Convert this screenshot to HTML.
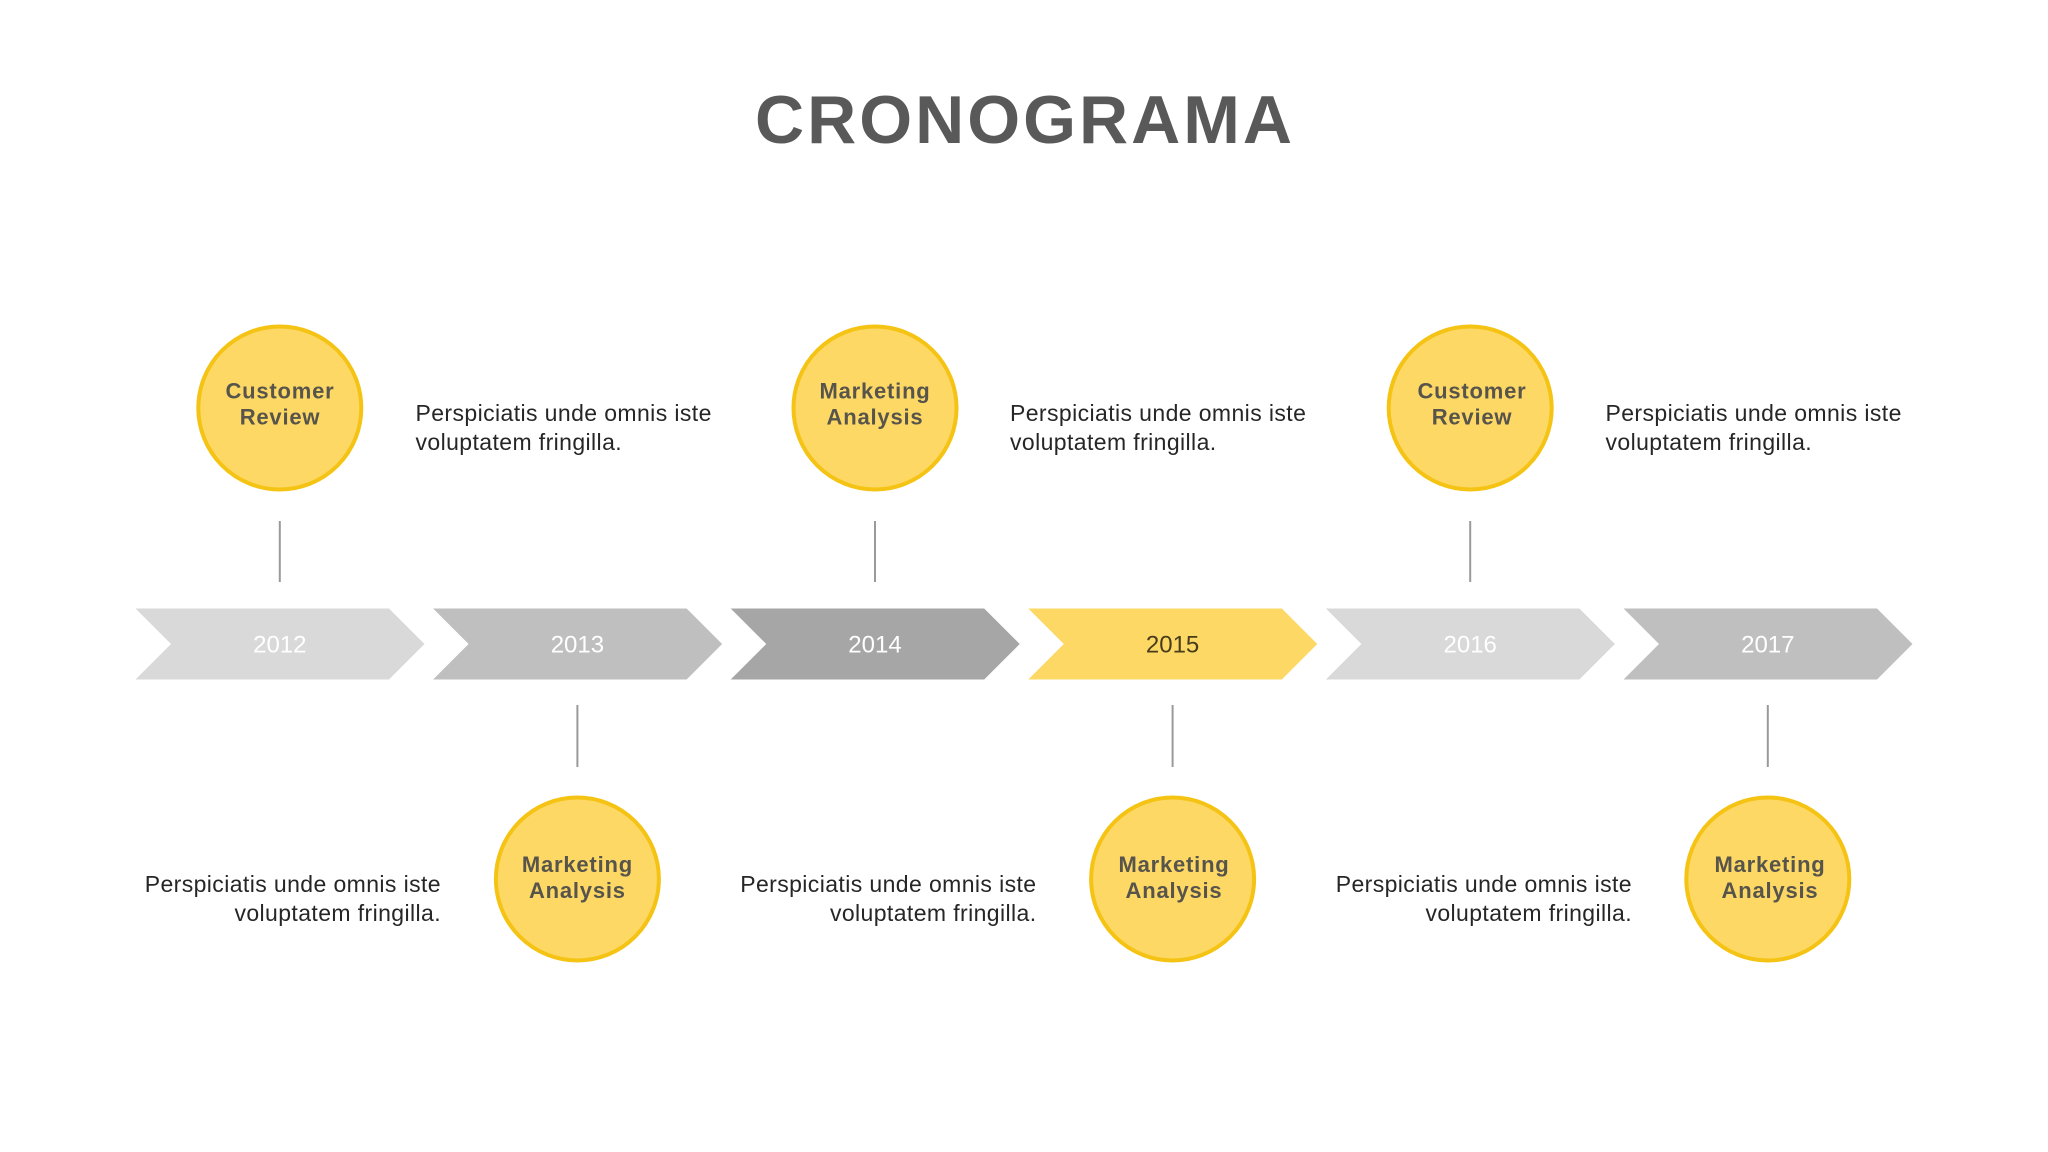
<!DOCTYPE html>
<html>
<head>
<meta charset="utf-8">
<style>
  html, body { margin: 0; padding: 0; background: #ffffff; }
  body { width: 2048px; height: 1152px; overflow: hidden; }
  svg { display: block; }
  .title { font-family: "Liberation Sans", sans-serif; font-weight: bold; font-size: 68px; fill: #595959; letter-spacing: 3px; }
  .lbl { font-family: "Liberation Sans", sans-serif; font-weight: bold; font-size: 22px; fill: #57544c; letter-spacing: 0.8px; }
  .body { font-family: "Liberation Sans", sans-serif; font-size: 23px; fill: #262626; letter-spacing: 0.4px; }
  .yr { font-family: "Liberation Sans", sans-serif; font-size: 24px; fill: #ffffff; }
</style>
</head>
<body>
<svg width="2048" height="1152" viewBox="0 0 2048 1152" xmlns="http://www.w3.org/2000/svg">
  <rect width="2048" height="1152" fill="#ffffff"/>

  <text class="title" x="1025" y="143" text-anchor="middle">CRONOGRAMA</text>

  <!-- Chevrons -->
  <polygon points="135.5,608.5 389,608.5 424.5,644 389,679.5 135.5,679.5 171,644" fill="#D9D9D9"/>
  <polygon points="433.1,608.5 686.6,608.5 722.1,644 686.6,679.5 433.1,679.5 468.6,644" fill="#BFBFBF"/>
  <polygon points="730.7,608.5 984.2,608.5 1019.7,644 984.2,679.5 730.7,679.5 766.2,644" fill="#A6A6A6"/>
  <polygon points="1028.3,608.5 1281.8,608.5 1317.3,644 1281.8,679.5 1028.3,679.5 1063.8,644" fill="#FDD865"/>
  <polygon points="1325.9,608.5 1579.4,608.5 1614.9,644 1579.4,679.5 1325.9,679.5 1361.4,644" fill="#D9D9D9"/>
  <polygon points="1623.5,608.5 1877,608.5 1912.5,644 1877,679.5 1623.5,679.5 1659,644" fill="#BFBFBF"/>

  <text class="yr" x="279.8" y="652.5" text-anchor="middle">2012</text>
  <text class="yr" x="577.4" y="652.5" text-anchor="middle">2013</text>
  <text class="yr" x="875" y="652.5" text-anchor="middle">2014</text>
  <text class="yr" x="1172.6" y="652.5" text-anchor="middle" style="fill:#473c1c">2015</text>
  <text class="yr" x="1470.2" y="652.5" text-anchor="middle">2016</text>
  <text class="yr" x="1767.8" y="652.5" text-anchor="middle">2017</text>

  <!-- Connector lines -->
  <g stroke="#9a9a9a" stroke-width="2">
    <line x1="279.8" y1="521" x2="279.8" y2="582"/>
    <line x1="875" y1="521" x2="875" y2="582"/>
    <line x1="1470.2" y1="521" x2="1470.2" y2="582"/>
    <line x1="577.4" y1="705" x2="577.4" y2="767"/>
    <line x1="1172.6" y1="705" x2="1172.6" y2="767"/>
    <line x1="1767.8" y1="705" x2="1767.8" y2="767"/>
  </g>

  <!-- Circles -->
  <g fill="#FDD865" stroke="#F5C314" stroke-width="4">
    <circle cx="279.8" cy="408" r="81.5"/>
    <circle cx="875" cy="408" r="81.5"/>
    <circle cx="1470.2" cy="408" r="81.5"/>
    <circle cx="577.4" cy="879" r="81.5"/>
    <circle cx="1172.6" cy="879" r="81.5"/>
    <circle cx="1767.8" cy="879" r="81.5"/>
  </g>

  <!-- Circle labels -->
  <text class="lbl" x="280" y="398.5" text-anchor="middle">Customer</text>
  <text class="lbl" x="280" y="424.5" text-anchor="middle">Review</text>
  <text class="lbl" x="875" y="398.5" text-anchor="middle">Marketing</text>
  <text class="lbl" x="875" y="424.5" text-anchor="middle">Analysis</text>
  <text class="lbl" x="1472" y="398.5" text-anchor="middle">Customer</text>
  <text class="lbl" x="1472" y="424.5" text-anchor="middle">Review</text>

  <text class="lbl" x="577.4" y="872" text-anchor="middle">Marketing</text>
  <text class="lbl" x="577.4" y="898" text-anchor="middle">Analysis</text>
  <text class="lbl" x="1174" y="872" text-anchor="middle">Marketing</text>
  <text class="lbl" x="1174" y="898" text-anchor="middle">Analysis</text>
  <text class="lbl" x="1770" y="872" text-anchor="middle">Marketing</text>
  <text class="lbl" x="1770" y="898" text-anchor="middle">Analysis</text>

  <!-- Top descriptions -->
  <text class="body" x="415.5" y="421">Perspiciatis unde omnis iste</text>
  <text class="body" x="415.5" y="450">voluptatem fringilla.</text>
  <text class="body" x="1010" y="421">Perspiciatis unde omnis iste</text>
  <text class="body" x="1010" y="450">voluptatem fringilla.</text>
  <text class="body" x="1605.5" y="421">Perspiciatis unde omnis iste</text>
  <text class="body" x="1605.5" y="450">voluptatem fringilla.</text>

  <!-- Bottom descriptions (right aligned) -->
  <text class="body" x="441" y="892" text-anchor="end">Perspiciatis unde omnis iste</text>
  <text class="body" x="441" y="921" text-anchor="end">voluptatem fringilla.</text>
  <text class="body" x="1036.5" y="892" text-anchor="end">Perspiciatis unde omnis iste</text>
  <text class="body" x="1036.5" y="921" text-anchor="end">voluptatem fringilla.</text>
  <text class="body" x="1632" y="892" text-anchor="end">Perspiciatis unde omnis iste</text>
  <text class="body" x="1632" y="921" text-anchor="end">voluptatem fringilla.</text>
</svg>
</body>
</html>
